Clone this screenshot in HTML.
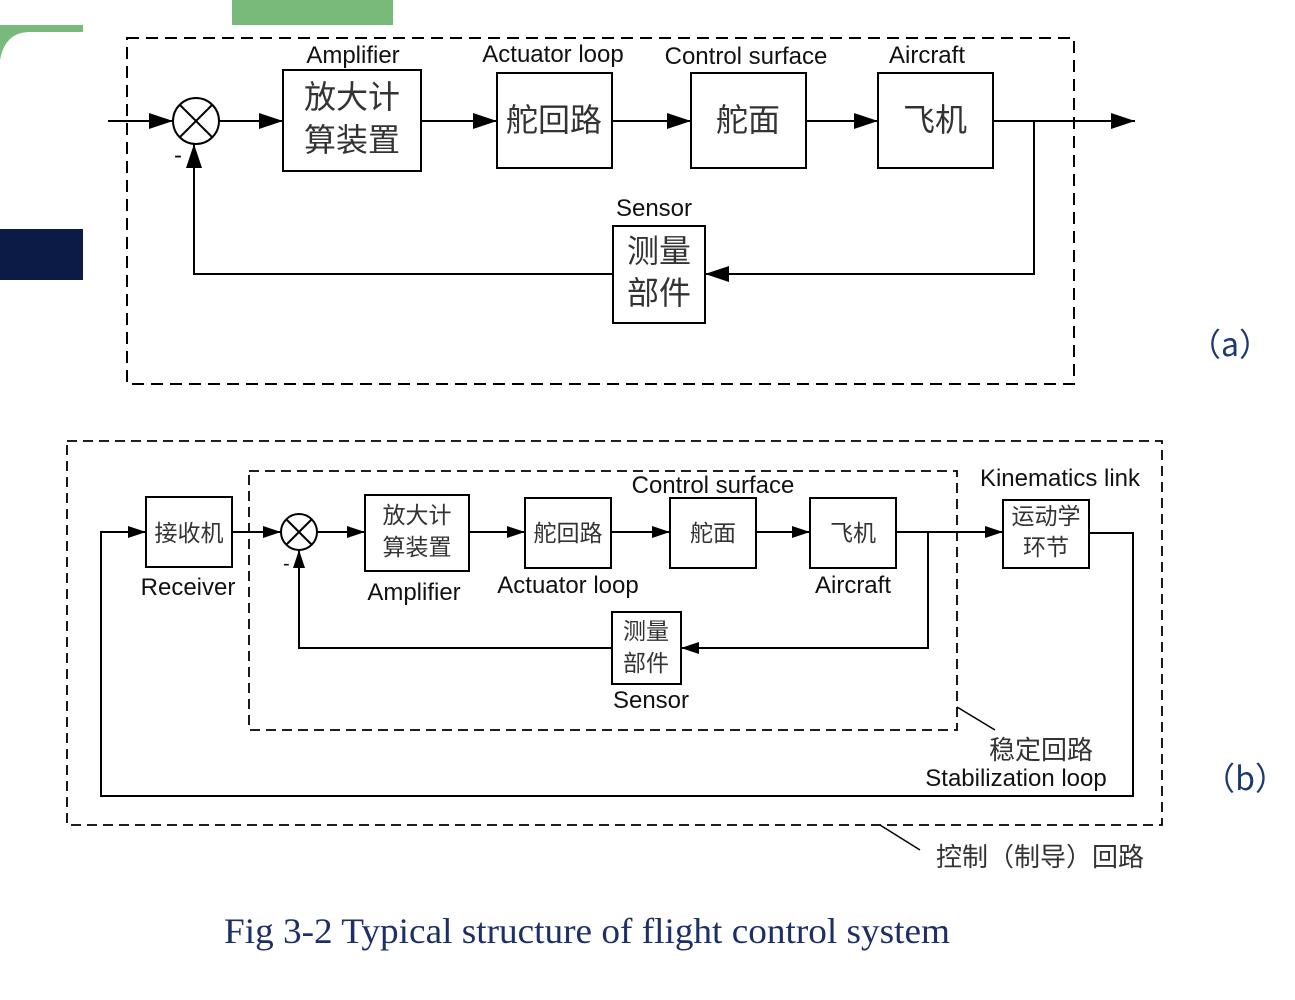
<!DOCTYPE html>
<html><head><meta charset="utf-8"><style>
html,body{margin:0;padding:0;background:#fff;width:1295px;height:1000px;overflow:hidden}
svg{display:block}
text{font-family:"Liberation Sans","Noto Sans CJK SC",sans-serif;fill:#111}
.cn{font-family:"Noto Sans CJK SC","WenQuanYi Zen Hei",sans-serif;fill:#333}
</style></head><body>
<svg width="1295" height="1000" viewBox="0 0 1295 1000">
<defs><marker id="ar" markerWidth="24" markerHeight="16" refX="24" refY="8" orient="auto" markerUnits="userSpaceOnUse"><path d="M0,0 L24,8 L0,16 Z" fill="#000"/></marker>
<marker id="as" markerWidth="18" markerHeight="12" refX="18" refY="6" orient="auto" markerUnits="userSpaceOnUse"><path d="M0,0 L18,6 L0,12 Z" fill="#000"/></marker></defs>
<rect x="232" y="0" width="161" height="25" fill="#79b97a"/>
<path d="M0,25 H83 V32 H30 Q5,32 0,60 Z" fill="#79b97a"/>
<rect x="0" y="229" width="83" height="51" fill="#0c1b45"/>
<g stroke="#000" stroke-width="2" fill="none">
<rect x="127" y="38" width="947" height="346" stroke-dasharray="12,7"/>
<line x1="108" y1="121" x2="173" y2="121" marker-end="url(#ar)"/>
<circle cx="196" cy="121" r="23"/>
<line x1="180" y1="105" x2="212" y2="137"/><line x1="212" y1="105" x2="180" y2="137"/>
<line x1="219" y1="121" x2="283" y2="121" marker-end="url(#ar)"/>
<rect x="283" y="70" width="138" height="101" fill="#fff"/>
<line x1="421" y1="121" x2="497" y2="121" marker-end="url(#ar)"/>
<rect x="497" y="73" width="115" height="95"/>
<line x1="612" y1="121" x2="691" y2="121" marker-end="url(#ar)"/>
<rect x="691" y="73" width="115" height="95"/>
<line x1="806" y1="121" x2="878" y2="121" marker-end="url(#ar)"/>
<rect x="878" y="73" width="115" height="95"/>
<line x1="993" y1="121" x2="1135" y2="121" marker-end="url(#ar)"/>
<polyline points="1034,121 1034,274 705,274" marker-end="url(#ar)"/>
<rect x="613" y="226" width="92" height="97"/>
<polyline points="613,274 194,274 194,144" marker-end="url(#ar)"/>
<rect x="67" y="441" width="1095" height="384" stroke-dasharray="10,6" stroke-width="1.8"/>
<rect x="249" y="471" width="708" height="259" stroke-dasharray="10,6" stroke-width="1.8"/>
<polyline points="1089,533 1133,533 1133,796 101,796 101,532 146,532" marker-end="url(#as)"/>
<rect x="146" y="497" width="86" height="70"/>
<line x1="232" y1="532" x2="281" y2="532" marker-end="url(#as)"/>
<circle cx="299" cy="532" r="18"/>
<line x1="286" y1="519" x2="312" y2="545"/><line x1="312" y1="519" x2="286" y2="545"/>
<line x1="317" y1="532" x2="365" y2="532" marker-end="url(#as)"/>
<rect x="365" y="495" width="104" height="76"/>
<line x1="469" y1="532" x2="525" y2="532" marker-end="url(#as)"/>
<rect x="525" y="498" width="86" height="70"/>
<line x1="611" y1="532" x2="670" y2="532" marker-end="url(#as)"/>
<rect x="670" y="498" width="86" height="70"/>
<line x1="756" y1="532" x2="810" y2="532" marker-end="url(#as)"/>
<rect x="810" y="498" width="86" height="70"/>
<line x1="896" y1="532" x2="1003" y2="532" marker-end="url(#as)"/>
<rect x="1003" y="500" width="86" height="68"/>
<polyline points="928,532 928,648 681,648" marker-end="url(#as)"/>
<rect x="612" y="612" width="69" height="72"/>
<polyline points="612,648 299,648 299,550" marker-end="url(#as)"/>
<line x1="957" y1="707" x2="995" y2="730" stroke-width="1.5"/>
<line x1="880" y1="825" x2="920" y2="850" stroke-width="1.5"/>
</g>
<text x="353" y="63" font-size="24" text-anchor="middle">Amplifier</text>
<text x="553" y="62" font-size="24" text-anchor="middle">Actuator loop</text>
<text x="746" y="64" font-size="24" text-anchor="middle">Control surface</text>
<text x="927" y="63" font-size="24" text-anchor="middle">Aircraft</text>
<text x="654" y="216" font-size="24" text-anchor="middle">Sensor</text>
<text x="174" y="163" font-size="24">-</text>
<text class="cn" x="352" y="108" font-size="32" text-anchor="middle">放大计</text>
<text class="cn" x="352" y="151" font-size="32" text-anchor="middle">算装置</text>
<text class="cn" x="554" y="131" font-size="32" text-anchor="middle">舵回路</text>
<text class="cn" x="748" y="131" font-size="32" text-anchor="middle">舵面</text>
<text class="cn" x="935" y="131" font-size="32" text-anchor="middle">飞机</text>
<text class="cn" x="659" y="262" font-size="32" text-anchor="middle">测量</text>
<text class="cn" x="659" y="304" font-size="32" text-anchor="middle">部件</text>
<text class="cn" x="1230" y="356" font-size="32" text-anchor="middle" style="fill:#1c3a6e">（a）</text>
<text class="cn" x="189" y="541" font-size="23" text-anchor="middle">接收机</text>
<text class="cn" x="417" y="523" font-size="23" text-anchor="middle">放大计</text>
<text class="cn" x="417" y="555" font-size="23" text-anchor="middle">算装置</text>
<text class="cn" x="568" y="541" font-size="23" text-anchor="middle">舵回路</text>
<text class="cn" x="713" y="541" font-size="23" text-anchor="middle">舵面</text>
<text class="cn" x="853" y="541" font-size="23" text-anchor="middle">飞机</text>
<text class="cn" x="1046" y="524" font-size="23" text-anchor="middle">运动学</text>
<text class="cn" x="1046" y="555" font-size="23" text-anchor="middle">环节</text>
<text class="cn" x="646" y="639" font-size="23" text-anchor="middle">测量</text>
<text class="cn" x="646" y="671" font-size="23" text-anchor="middle">部件</text>
<text x="188" y="595" font-size="24" text-anchor="middle">Receiver</text>
<text x="414" y="600" font-size="24" text-anchor="middle">Amplifier</text>
<text x="568" y="593" font-size="24" text-anchor="middle">Actuator loop</text>
<text x="853" y="593" font-size="24" text-anchor="middle">Aircraft</text>
<text x="713" y="493" font-size="24" text-anchor="middle">Control surface</text>
<text x="1060" y="486" font-size="24" text-anchor="middle">Kinematics link</text>
<text x="651" y="708" font-size="24" text-anchor="middle">Sensor</text>
<text x="283" y="570" font-size="20">-</text>
<text class="cn" x="1041" y="759" font-size="26" text-anchor="middle">稳定回路</text>
<text x="1016" y="786" font-size="24" text-anchor="middle">Stabilization loop</text>
<text class="cn" x="1040" y="866" font-size="26" text-anchor="middle">控制（制导）回路</text>
<text class="cn" x="1245" y="790" font-size="32" text-anchor="middle" style="fill:#1c3a6e">（b）</text>
<text x="224" y="943" font-size="36" textLength="726" lengthAdjust="spacingAndGlyphs" style="font-family:'Liberation Serif',serif;fill:#1c2f66">Fig 3-2 Typical structure of flight  control system</text>
</svg>
</body></html>
